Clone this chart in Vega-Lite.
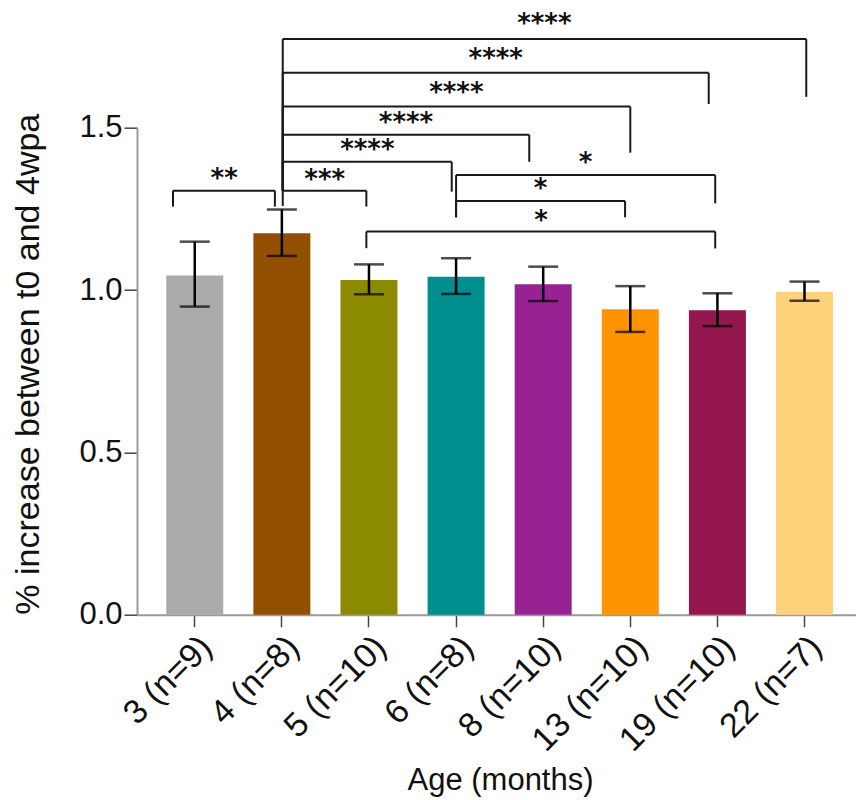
{
  "$schema": "https://vega.github.io/schema/vega-lite/v6.json",
  "width": 719,
  "height": 487,
  "autosize": {"type": "none"},
  "padding": {"left": 137, "top": 127.7, "right": 0, "bottom": 185.3},
  "background": "white",
  "config": {
    "view": {"stroke": null},
    "font": "Liberation Sans",
    "axis": {
      "grid": false,
      "domainColor": "#9a9a9a",
      "domainWidth": 2,
      "tickColor": "#444444",
      "tickWidth": 1.5,
      "labelFont": "Liberation Sans",
      "labelColor": "#111111",
      "titleFont": "Liberation Sans",
      "titleFontWeight": "normal",
      "titleColor": "#111111"
    }
  },
  "datasets": {
    "bars": [
      {"age": "3 (n=9)", "mean": 1.045, "lo": 0.949, "hi": 1.149},
      {"age": "4 (n=8)", "mean": 1.175, "lo": 1.105, "hi": 1.248},
      {"age": "5 (n=10)", "mean": 1.031, "lo": 0.987, "hi": 1.079},
      {"age": "6 (n=8)", "mean": 1.041, "lo": 0.988, "hi": 1.098},
      {"age": "8 (n=10)", "mean": 1.018, "lo": 0.966, "hi": 1.072},
      {"age": "13 (n=10)", "mean": 0.941, "lo": 0.871, "hi": 1.012},
      {"age": "19 (n=10)", "mean": 0.938, "lo": 0.889, "hi": 0.990},
      {"age": "22 (n=7)", "mean": 0.994, "lo": 0.967, "hi": 1.026}
    ],
    "brackets": [
      {"pair": "3-4", "x1": -0.25, "x2": 0.92, "y": 1.306, "d1": 1.257, "d2": 1.257, "xm": 0.338, "ly": 1.361, "label": "**"},
      {"pair": "4-5", "x1": 1.01, "x2": 1.97, "y": 1.306, "d1": 1.259, "d2": 1.257, "xm": 1.492, "ly": 1.357, "label": "***"},
      {"pair": "4-6", "x1": 1.01, "x2": 2.95, "y": 1.395, "d1": 1.306, "d2": 1.303, "xm": 1.981, "ly": 1.45, "label": "****"},
      {"pair": "4-8", "x1": 1.01, "x2": 3.84, "y": 1.478, "d1": 1.306, "d2": 1.395, "xm": 2.425, "ly": 1.533, "label": "****"},
      {"pair": "4-13", "x1": 1.01, "x2": 5.0, "y": 1.565, "d1": 1.306, "d2": 1.423, "xm": 3.003, "ly": 1.624, "label": "****"},
      {"pair": "4-19", "x1": 1.01, "x2": 5.9, "y": 1.669, "d1": 1.306, "d2": 1.573, "xm": 3.455, "ly": 1.729, "label": "****"},
      {"pair": "4-22", "x1": 1.01, "x2": 7.02, "y": 1.773, "d1": 1.306, "d2": 1.595, "xm": 4.013, "ly": 1.837, "label": "****"},
      {"pair": "6-19", "x1": 3.0, "x2": 5.975, "y": 1.354, "d1": 1.224, "d2": 1.267, "xm": 4.487, "ly": 1.411, "label": "*"},
      {"pair": "6-13", "x1": 3.0, "x2": 4.94, "y": 1.274, "d1": 1.224, "d2": 1.224, "xm": 3.969, "ly": 1.329, "label": "*"},
      {"pair": "5-19", "x1": 1.97, "x2": 5.975, "y": 1.18, "d1": 1.129, "d2": 1.128, "xm": 3.975, "ly": 1.231, "label": "*"}
    ]
  },
  "layer": [
    {
      "data": {"name": "bars"},
      "layer": [
        {
          "mark": {"type": "bar"},
          "encoding": {
            "x": {
              "field": "age", "type": "nominal", "sort": null,
              "scale": {"paddingInner": 0.346, "paddingOuter": 0.3, "align": 0.56},
              "axis": {
                "title": "Age (months)",
                "titleFontSize": 31,
                "titleX": 363,
                "titleY": 175,
                "titleBaseline": "alphabetic",
                "titleAnchor": "middle",
                "labelAngle": -45,
                "labelFontSize": 34,
                "tickSize": 12,
                "labelPadding": 3
              }
            },
            "y": {
              "field": "mean", "type": "quantitative",
              "scale": {"domain": [0, 1.5], "nice": false, "zero": true},
              "axis": {
                "title": "% increase between t0 and 4wpa",
                "titleFontSize": 34,
                "titleX": -99,
                "titleY": 236,
                "titleAngle": -90,
                "titleBaseline": "alphabetic",
                "titleAnchor": "middle",
                "titleAlign": "center",
                "values": [0, 0.5, 1, 1.5],
                "format": ".1f",
                "labelFontSize": 31,
                "tickSize": 13,
                "labelPadding": 2
              }
            },
            "color": {
              "field": "age", "type": "nominal", "sort": null,
              "scale": {
                "domain": ["3 (n=9)", "4 (n=8)", "5 (n=10)", "6 (n=8)", "8 (n=10)", "13 (n=10)", "19 (n=10)", "22 (n=7)"],
                "range": ["#ababab", "#934f00", "#8c8a00", "#008e8e", "#962294", "#ff9400", "#93164c", "#fdd27a"]
              },
              "legend": null
            }
          }
        },
        {
          "mark": {"type": "rule", "color": "#000000", "strokeWidth": 2.5},
          "encoding": {
            "x": {"field": "age", "type": "nominal", "sort": null},
            "y": {"field": "lo", "type": "quantitative", "scale": {"domain": [0, 1.5], "nice": false}},
            "y2": {"field": "hi"}
          }
        },
        {
          "mark": {"type": "tick", "color": "#000000", "thickness": 2.5, "size": 30},
          "encoding": {
            "x": {"field": "age", "type": "nominal", "sort": null},
            "y": {"field": "hi", "type": "quantitative", "scale": {"domain": [0, 1.5], "nice": false}}
          }
        },
        {
          "mark": {"type": "tick", "color": "#000000", "thickness": 2.5, "size": 30},
          "encoding": {
            "x": {"field": "age", "type": "nominal", "sort": null},
            "y": {"field": "lo", "type": "quantitative", "scale": {"domain": [0, 1.5], "nice": false}}
          }
        }
      ]
    },
    {
      "data": {"name": "brackets"},
      "layer": [
        {
          "mark": {"type": "rule", "color": "#1a1a1a", "strokeWidth": 2},
          "encoding": {
            "x": {"field": "x1", "type": "quantitative", "scale": {"domain": [-0.6631, 7.591], "nice": false, "zero": false}, "axis": null},
            "x2": {"field": "x2"},
            "y": {"field": "y", "type": "quantitative", "scale": {"domain": [0, 1.5], "nice": false}, "axis": null}
          }
        },
        {
          "mark": {"type": "rule", "color": "#1a1a1a", "strokeWidth": 2},
          "encoding": {
            "x": {"field": "x1", "type": "quantitative", "scale": {"domain": [-0.6631, 7.591], "nice": false, "zero": false}, "axis": null},
            "y": {"field": "y", "type": "quantitative", "scale": {"domain": [0, 1.5], "nice": false}, "axis": null},
            "y2": {"field": "d1"}
          }
        },
        {
          "mark": {"type": "rule", "color": "#1a1a1a", "strokeWidth": 2},
          "encoding": {
            "x": {"field": "x2", "type": "quantitative", "scale": {"domain": [-0.6631, 7.591], "nice": false, "zero": false}, "axis": null},
            "y": {"field": "y", "type": "quantitative", "scale": {"domain": [0, 1.5], "nice": false}, "axis": null},
            "y2": {"field": "d2"}
          }
        },
        {
          "mark": {"type": "text", "font": "DejaVu Sans", "fontSize": 26, "fontWeight": "bold", "color": "#111111", "align": "center", "baseline": "alphabetic", "dy": 14},
          "encoding": {
            "x": {"field": "xm", "type": "quantitative", "scale": {"domain": [-0.6631, 7.591], "nice": false, "zero": false}, "axis": null},
            "y": {"field": "ly", "type": "quantitative", "scale": {"domain": [0, 1.5], "nice": false}, "axis": null},
            "text": {"field": "label"}
          }
        }
      ]
    }
  ],
  "resolve": {"scale": {"x": "independent"}, "axis": {"x": "independent", "y": "independent"}}
}
